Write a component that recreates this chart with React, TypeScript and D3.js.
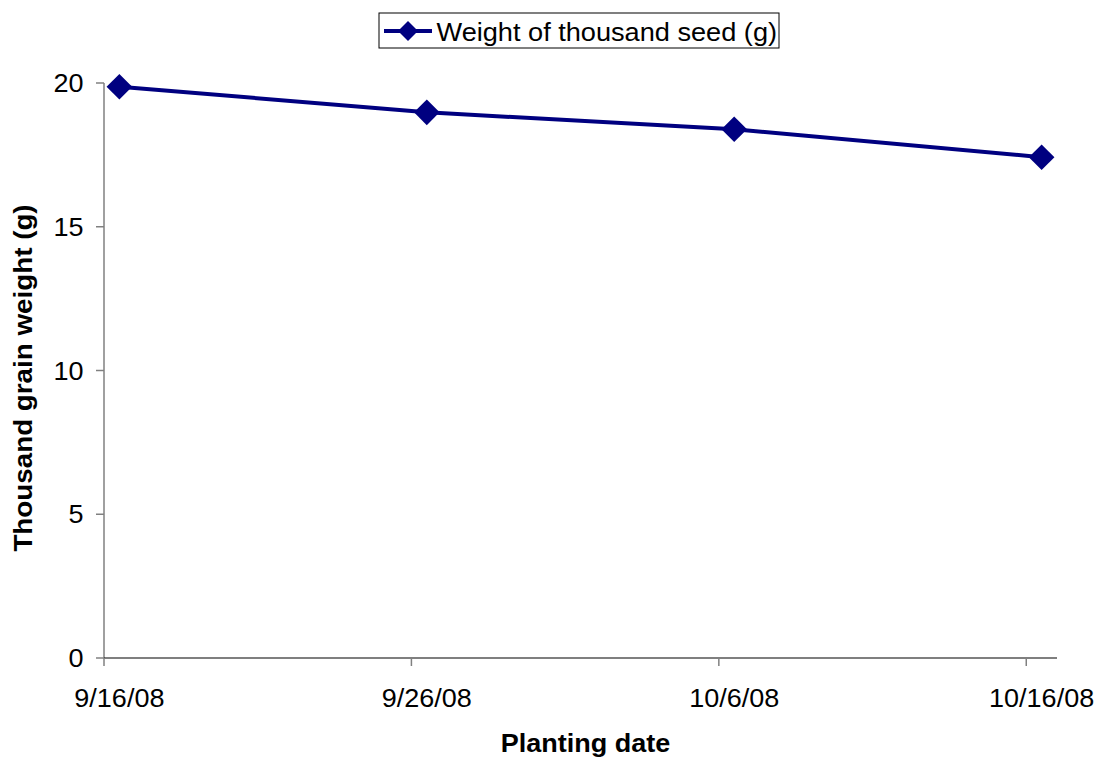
import React from "react";
import * as d3 from "d3";

const dates = ["2008-09-16T12:00", "2008-09-26T12:00", "2008-10-06T12:00", "2008-10-16T12:00"];
const values = [19.87, 18.98, 18.39, 17.42];
const xTickDates = ["2008-09-16", "2008-09-26", "2008-10-06", "2008-10-16"];
const xTickLabels = ["9/16/08", "9/26/08", "10/6/08", "10/16/08"];
const yTicks = [0, 5, 10, 15, 20];
const seriesName = "Weight of thousand seed (g)";

const W = 1102, H = 758;
const left = 104, right = 1057, top = 83, bottom = 658;
const color = "#000080";
const font = "Liberation Sans, Arial, sans-serif";
const SX = 1.06;

function T(props: { x: number; y: number; anchor?: string; size: number; bold?: boolean; rotate?: number; dy?: string; sx?: number; children: React.ReactNode }) {
  const { x, y, anchor = "start", size, bold, rotate = 0, dy, sx = SX, children } = props;
  return (
    <g transform={`translate(${x},${y}) rotate(${rotate}) scale(${sx},1)`}>
      <text x={0} y={0} dy={dy} textAnchor={anchor} fontSize={size} fontWeight={bold ? "bold" : "normal"} fill="#000">
        {children}
      </text>
    </g>
  );
}

export default function App() {
  const x = d3.scaleTime()
    .domain([new Date("2008-09-16T00:00"), new Date("2008-10-17T00:00")])
    .range([left, right]);
  const y = d3.scaleLinear().domain([0, 20]).range([bottom, top]);
  const pts = dates.map((d, i) => [x(new Date(d)), y(values[i])] as [number, number]);
  const line = d3.line()(pts) || "";
  const diamond = (cx: number, cy: number, r: number) =>
    `M${cx},${cy - r}L${cx + r},${cy}L${cx},${cy + r}L${cx - r},${cy}Z`;

  return (
    <svg width={W} height={H} style={{ position: "absolute", left: 0, top: 0 }} fontFamily={font}>
      <rect width={W} height={H} fill="#fff" />
      {/* y axis */}
      <line x1={left} x2={left} y1={top} y2={bottom} stroke="#808080" strokeWidth={1.5} />
      {yTicks.map((t) => (
        <g key={t}>
          <line x1={left - 8} x2={left} y1={y(t)} y2={y(t)} stroke="#808080" strokeWidth={1.5} />
          <T x={83.5} y={y(t)} dy="0.36em" anchor="end" size={25.5}>{t}</T>
        </g>
      ))}
      {/* x axis */}
      <line x1={left} x2={right} y1={bottom} y2={bottom} stroke="#000" strokeWidth={1.2} />
      {xTickDates.map((d) => (
        <line key={d} x1={x(new Date(d + "T00:00"))} x2={x(new Date(d + "T00:00"))} y1={bottom} y2={bottom + 8} stroke="#808080" strokeWidth={1.5} />
      ))}
      {dates.map((d, i) => (
        <T key={d} x={x(new Date(d))} y={706.5} anchor="middle" size={25.5}>{xTickLabels[i]}</T>
      ))}
      {/* titles */}
      <T x={585.5} y={751.5} anchor="middle" size={25.5} bold>Planting date</T>
      <T x={32} y={378} anchor="middle" size={25.5} bold rotate={-90} sx={1.09}>Thousand grain weight (g)</T>
      {/* series */}
      <path d={line} fill="none" stroke={color} strokeWidth={4} />
      {pts.map(([cx, cy], i) => (
        <path key={i} d={diamond(cx, cy, 12.8)} fill={color} />
      ))}
      {/* legend */}
      <rect x={379} y={13} width={400} height={35} fill="#fff" stroke="#000" strokeWidth={1} />
      <line x1={384} x2={432} y1={31} y2={31} stroke={color} strokeWidth={4} />
      <path d={diamond(408, 31, 10)} fill={color} />
      <T x={436.5} y={41} size={25.5} sx={1.065}>{seriesName}</T>
    </svg>
  );
}
